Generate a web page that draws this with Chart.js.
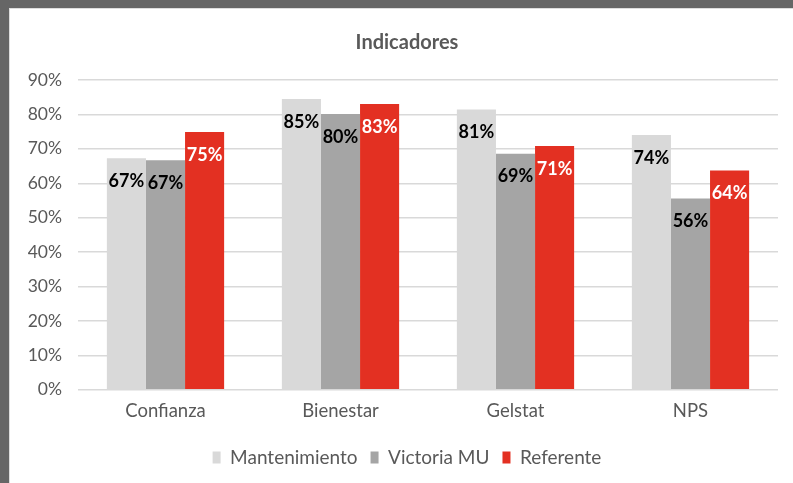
<!DOCTYPE html>
<html>
<head>
<meta charset="utf-8">
<script src="https://cdn.jsdelivr.net/npm/chart.js@4"></script>
<style>
  html, body { margin: 0; padding: 0; background: #fff; }
  #frame {
    width: 793px; height: 483px; box-sizing: border-box;
    border-top: 8px solid #666; border-left: 9px solid #666;
  }
  #inner { width: 784px; height: 475px; box-sizing: border-box; border-left: 1px solid #ddd; border-top: 1px solid #ddd; position: relative; }
</style>
</head>
<body>
<div id="frame"><div id="inner"><canvas id="chart"></canvas></div></div>
<script>
const categories = ['Confianza', 'Bienestar', 'Gelstat', 'NPS'];
const mantenimiento = [67.3, 84.5, 81.4, 74.0];
const victoriaMU    = [66.7, 80.1, 68.6, 55.6];
const referente     = [74.9, 83.0, 70.8, 63.7];
const yTicks = [0, 10, 20, 30, 40, 50, 60, 70, 80, 90];

const FONT = 'Lato, "Liberation Sans", sans-serif';
const TXT = '#595959';

// etiquetas dentro de la barra, cerca del extremo superior
const barLabels = {
    id: 'barLabels',
    afterDatasetsDraw(chart) {
        const ctx = chart.ctx;
        ctx.save();
        ctx.font = 'bold 18px ' + FONT;
        ctx.textAlign = 'center';
        ctx.textBaseline = 'middle';
        chart.data.datasets.forEach((ds, i) => {
            const meta = chart.getDatasetMeta(i);
            ctx.fillStyle = i === 2 ? '#fff' : '#000';
            meta.data.forEach((bar, j) => {
                ctx.fillText(Math.round(ds.data[j]) + '%', bar.x, bar.y + 23);
            });
        });
        ctx.restore();
    }
};

new Chart(document.getElementById('chart'), {
    type: 'bar',
    data: {
        labels: categories,
        datasets: [
            { label: 'Mantenimiento', data: mantenimiento, backgroundColor: '#d9d9d9' },
            { label: 'Victoria MU',   data: victoriaMU,    backgroundColor: '#a5a5a5' },
            { label: 'Referente',     data: referente,     backgroundColor: '#e33022' }
        ]
    },
    options: {
        responsive: true,
        maintainAspectRatio: false,
        animation: false,
        layout: { padding: { left: 16, right: 5, top: 14, bottom: 6 } },
        datasets: { bar: { categoryPercentage: 0.67, barPercentage: 1.0 } },
        plugins: {
            title: {
                display: true, text: 'Indicadores', color: TXT,
                font: { family: FONT, size: 20, weight: 'bold' },
                padding: { top: 8, bottom: 25 }
            },
            legend: {
                position: 'bottom',
                labels: {
                    color: TXT, font: { family: FONT, size: 19 },
                    boxWidth: 8, boxHeight: 12, padding: 13
                }
            },
            tooltip: { enabled: false }
        },
        scales: {
            x: {
                grid: { display: false },
                border: { display: false },
                afterFit: axis => { axis.height += 11; },
                ticks: { color: TXT, font: { family: FONT, size: 18.5 }, padding: 2 }
            },
            y: {
                min: 0, max: 90,
                afterBuildTicks: axis => { axis.ticks = yTicks.map(v => ({ value: v })); },
                afterFit: axis => { axis.width = 52; },
                grid: { color: '#d9d9d9', lineWidth: 1.5, drawTicks: false },
                border: { display: false },
                ticks: {
                    color: TXT, font: { family: FONT, size: 17.5 }, padding: 16,
                    callback: v => v + '%'
                }
            },
            yRight: {
                position: 'right',
                grid: { display: false },
                border: { display: false },
                ticks: { display: false },
                afterFit: axis => { axis.width = 10; }
            }
        }
    },
    plugins: [barLabels]
});
</script>
</body>
</html>
